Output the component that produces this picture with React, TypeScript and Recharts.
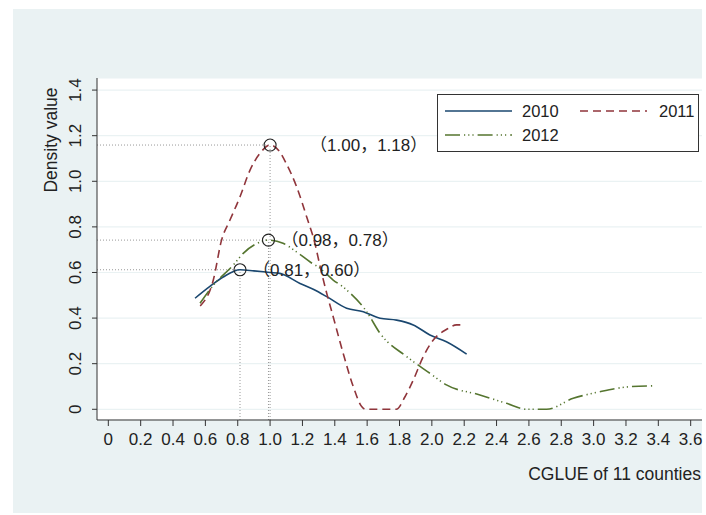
import React from 'react';
import {
  LineChart,
  Line,
  XAxis,
  YAxis,
  CartesianGrid,
  ReferenceLine,
  ReferenceDot,
  Label,
} from 'recharts';

// axis ticks
const xTicks = [0, 0.2, 0.4, 0.6, 0.8, 1.0, 1.2, 1.4, 1.6, 1.8, 2.0, 2.2, 2.4, 2.6, 2.8, 3.0, 3.2, 3.4, 3.6];
const yTicks = [0, 0.2, 0.4, 0.6, 0.8, 1.0, 1.2, 1.4];

// kernel density, 2010
const x2010 = [0.536, 0.63, 0.71, 0.814, 0.9, 1.0, 1.06, 1.185, 1.27, 1.35, 1.473, 1.576, 1.68, 1.782, 1.885, 1.988, 2.09, 2.215];
const y2010 = [0.487, 0.54, 0.58, 0.612, 0.607, 0.6, 0.596, 0.552, 0.525, 0.494, 0.443, 0.428, 0.399, 0.391, 0.37, 0.326, 0.296, 0.242];

// kernel density, 2011
const x2011 = [0.568, 0.649, 0.7, 0.752, 0.814, 0.876, 0.937, 1.0, 1.06, 1.1, 1.164, 1.226, 1.277, 1.308, 1.35, 1.39, 1.452, 1.514, 1.566, 1.59, 1.78, 1.834, 1.885, 1.947, 2.009, 2.09, 2.153, 2.205];
const y2011 = [0.453, 0.567, 0.742, 0.83, 0.932, 1.049, 1.122, 1.159, 1.129, 1.078, 0.976, 0.844, 0.728, 0.63, 0.509, 0.406, 0.245, 0.1, 0.012, 0, 0, 0.055, 0.128, 0.231, 0.304, 0.35, 0.37, 0.37];

// kernel density, 2012
const x2012 = [0.567, 0.65, 0.773, 0.834, 0.918, 0.99, 1.08, 1.164, 1.25, 1.31, 1.39, 1.45, 1.597, 1.68, 1.844, 1.988, 2.09, 2.297, 2.462, 2.586, 2.709, 2.874, 3.039, 3.224, 3.379];
const y2012 = [0.465, 0.545, 0.633, 0.684, 0.727, 0.742, 0.728, 0.69, 0.645, 0.618, 0.567, 0.537, 0.428, 0.333, 0.231, 0.158, 0.107, 0.063, 0.026, 0, 0, 0.048, 0.077, 0.099, 0.103];

// peaks marked with circles
const peakX = [0.814, 0.99, 1.0];
const peakY = [0.612, 0.742, 1.159];
const peakText = ['（0.81，0.60）', '（0.98，0.78）', '（1.00，1.18）'];
const peakTextDx = [13, 13, 40];

const X_MIN = -0.07;
const X_MAX = 3.67;
const Y_MIN = -0.047;
const Y_MAX = 1.453;

const FONT = '"Liberation Sans", Arial, "Noto Sans CJK SC", sans-serif';
const INK = '#222';

const toPoints = (xs: number[], ys: number[]) => xs.map((x, i) => ({ x, y: ys[i] }));

const series = [
  { name: '2010', data: toPoints(x2010, y2010), color: '#1a476f', dash: undefined as string | undefined },
  { name: '2011', data: toPoints(x2011, y2011), color: '#90353b', dash: '8 5' },
  { name: '2012', data: toPoints(x2012, y2012), color: '#55752f', dash: '15 4 1.2 3 1.2 3 1.2 4' },
];

const fmtX = (v: number) => (v === 0 ? '0' : v.toFixed(1));

const YTick = (props: any) => {
  const { x, y, payload } = props;
  return (
    <text
      transform={`translate(${x - 9},${y}) rotate(-90)`}
      textAnchor="middle"
      fontSize={17}
      fontFamily={FONT}
      fill={INK}
    >
      {fmtX(payload.value)}
    </text>
  );
};

const LegendBox = () => {
  // slots: [lineX, textX, rowY]
  const slots = [
    [8, 85, 17],
    [143, 222, 17],
    [8, 85, 41],
  ];
  return (
    <svg width={262} height={58} style={{ display: 'block' }}>
      <rect x={0.5} y={0.5} width={261} height={57} fill="#fff" stroke="#333" strokeWidth={1} />
      {series.map((s, i) => (
        <g key={s.name}>
          <line
            x1={slots[i][0]}
            x2={slots[i][0] + 67}
            y1={slots[i][2]}
            y2={slots[i][2]}
            stroke={s.color}
            strokeWidth={1.6}
            strokeDasharray={s.dash}
          />
          <text x={slots[i][1]} y={slots[i][2] + 6} fontSize={16.5} fontFamily={FONT} fill={INK}>
            {s.name}
          </text>
        </g>
      ))}
    </svg>
  );
};

export default function App() {
  return (
    <div style={{ position: 'fixed', left: 0, top: 0, width: 706, height: 515, background: '#fff', overflow: 'hidden' }}>
      <div
        style={{ position: 'absolute', left: 13, top: 9, width: 689, height: 504, background: '#eaf2f3' }}
      />
      <div style={{ position: 'absolute', left: 0, top: 0 }}>
        <LineChart width={706} height={515} margin={{ top: 78, right: 4, bottom: 45, left: 37 }}>
          <CartesianGrid fill="#fff" stroke="#eaf2f3" strokeWidth={1.2} vertical={false} />
          <XAxis
            type="number"
            dataKey="x"
            domain={[X_MIN, X_MAX]}
            ticks={xTicks}
            tickFormatter={fmtX}
            interval={0}
            allowDataOverflow
            height={50}
            stroke="#333"
            tickSize={6}
            tickMargin={7}
            tick={{ fontSize: 17, fontFamily: FONT, fill: INK }}
          >
            <Label
              content={() => (
                <text x={701} y={480} textAnchor="end" fontSize={17.5} fontFamily={FONT} fill={INK}>
                  CGLUE of 11 counties
                </text>
              )}
            />
          </XAxis>
          <YAxis
            type="number"
            domain={[Y_MIN, Y_MAX]}
            ticks={yTicks}
            interval={0}
            allowDataOverflow
            width={60}
            stroke="#333"
            tickSize={5}
            tick={<YTick />}
          >
            <Label
              content={() => (
                <text
                  transform="translate(57,140) rotate(-90)"
                  textAnchor="middle"
                  fontSize={17.5}
                  fontFamily={FONT}
                  fill={INK}
                >
                  Density value
                </text>
              )}
            />
          </YAxis>

          {peakX.map((px, i) => (
            <ReferenceLine
              key={`h${i}`}
              segment={[
                { x: X_MIN, y: peakY[i] },
                { x: px, y: peakY[i] },
              ]}
              stroke="#999"
              strokeDasharray="1 2"
              strokeWidth={1}
            />
          ))}
          {peakX.map((px, i) => (
            <ReferenceLine
              key={`v${i}`}
              segment={[
                { x: px, y: Y_MIN },
                { x: px, y: peakY[i] },
              ]}
              stroke="#999"
              strokeDasharray="1 2"
              strokeWidth={1}
            />
          ))}

          {series.map((s) => (
            <Line
              key={s.name}
              data={s.data}
              dataKey="y"
              name={s.name}
              type="monotone"
              stroke={s.color}
              strokeWidth={1.6}
              strokeDasharray={s.dash}
              dot={false}
              activeDot={false}
              isAnimationActive={false}
            />
          ))}

          {peakX.map((px, i) => (
            <ReferenceDot
              key={`p${i}`}
              x={px}
              y={peakY[i]}
              r={6}
              shape={(p: any) => (
                <g>
                  <circle cx={p.cx} cy={p.cy} r={6} fill="none" stroke="#222" strokeWidth={1.1} />
                  <text x={p.cx + peakTextDx[i]} y={p.cy + 6} fontSize={17} fontFamily={FONT} fill={INK}>
                    {peakText[i]}
                  </text>
                </g>
              )}
            />
          ))}
        </LineChart>
      </div>
      <div style={{ position: 'absolute', left: 437, top: 94 }}>
        <LegendBox />
      </div>
    </div>
  );
}
